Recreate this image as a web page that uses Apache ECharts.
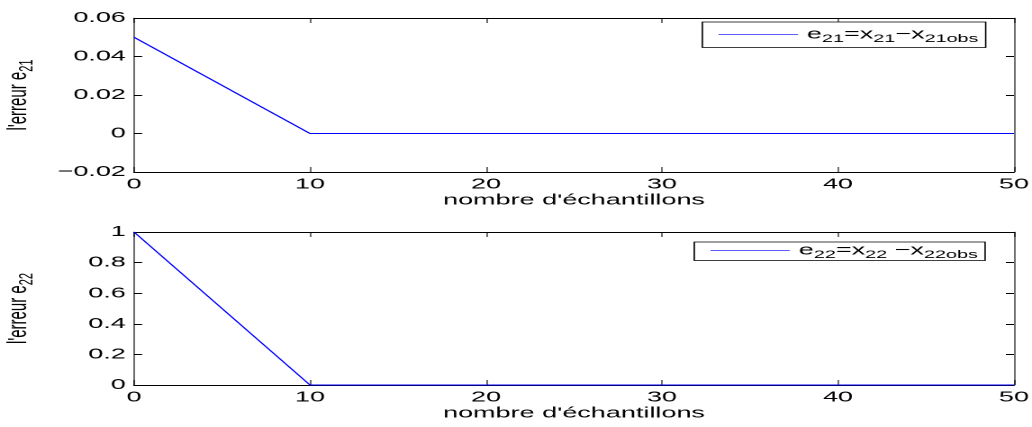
<!DOCTYPE html>
<html>
<head>
<meta charset="utf-8">
<script src="https://cdn.jsdelivr.net/npm/echarts@6/dist/echarts.min.js"></script>
<style>
  html, body { margin: 0; padding: 0; background: #fff; overflow: hidden; }
  /* the original figure was stretched horizontally, so draw narrow and stretch it the same way */
  #main { width: 573px; height: 427px; transform: scaleX(1.801); transform-origin: 0 0; }
</style>
</head>
<body>
<div id="main"></div>
<script>
// breakpoints of the two error curves (samples, error)
var samples = [0, 10, 50];
var e21 = [0.05, 0, 0];
var e22 = [1, 0, 0];

var xTicks = [0, 10, 20, 30, 40, 50];
var yTicksTop = [-0.02, 0, 0.02, 0.04, 0.06];
var yTicksBottom = [0, 0.2, 0.4, 0.6, 0.8, 1];

var font = '"Liberation Sans", Arial, sans-serif';
var thin = 0.56; // vertical strokes get stretched, keep them ~1px on screen

function pairs(xs, ys) {
    return xs.map(function (x, i) { return [x, ys[i]]; });
}

function fmt(v) {
    return String(+v.toFixed(2)).replace('-', '\u2212');
}

var mainTxt = { fontSize: 15, fontFamily: font, color: '#000' };
var subTxt = { fontSize: 11, fontFamily: font, color: '#000', padding: [9, 0, 0, 0] };

var chartDom = document.getElementById('main');
var myChart = echarts.init(chartDom, null, { devicePixelRatio: 2 });

function xAx(grid, pos, showLabel) {
    return {
        type: 'value', gridIndex: grid, position: pos,
        min: xTicks[0], max: xTicks[xTicks.length - 1], interval: 10,
        axisLine: { show: true, onZero: false, lineStyle: { color: '#000', width: 1 } },
        axisTick: { show: true, inside: true, length: 5, lineStyle: { color: '#000', width: thin } },
        axisLabel: { show: showLabel, margin: 5, fontSize: 15, fontFamily: font, color: '#000' },
        splitLine: { show: false },
        name: showLabel ? "nombre d'\u00e9chantillons" : '',
        nameLocation: 'middle', nameGap: 20,
        nameTextStyle: { fontSize: 15, fontFamily: font, color: '#000' }
    };
}

function yAx(grid, pos, ticks, showLabel, label) {
    return {
        type: 'value', gridIndex: grid, position: pos,
        min: ticks[0], max: ticks[ticks.length - 1], interval: ticks[1] - ticks[0],
        axisLine: { show: true, onZero: false, lineStyle: { color: '#000', width: thin } },
        axisTick: { show: true, inside: true, length: 4.5, lineStyle: { color: '#000', width: 1 } },
        axisLabel: { show: showLabel, margin: 4.5, fontSize: 15, fontFamily: font, color: '#000', formatter: fmt },
        splitLine: { show: false },
        name: showLabel ? label : '',
        nameLocation: 'middle', nameGap: 54, nameRotate: 90,
        nameTextStyle: {
            fontSize: 15, fontFamily: font, color: '#000',
            rich: { n: mainTxt, s: subTxt }
        }
    };
}

function legendFmt(name) {
    if (name === 'e21') {
        return '{m|e}{s|21}{m|=x}{s|21}{m|\u2212x}{s|21obs}';
    }
    return '{m|e}{s|22}{m|=x}{s|22}{m| \u2212x}{s|22obs}';
}

function legendBox(name, left, top, pad) {
    return {
        data: [{ name: name, icon: 'rect' }], left: left, top: top,
        backgroundColor: '#fff', borderColor: '#000', borderWidth: 0.8,
        padding: pad, itemGap: 0,
        itemWidth: 44, itemHeight: 1,
        itemStyle: { color: '#5c5cff', borderWidth: 0 },
        formatter: legendFmt,
        textStyle: { rich: { m: mainTxt, s: subTxt } }
    };
}

var option = {
    animation: false,
    backgroundColor: '#fff',
    grid: [
        { left: 74.4, top: 18, width: 488.6, height: 154, outerBoundsMode: 'none' },
        { left: 74.4, top: 232, width: 488.6, height: 153, outerBoundsMode: 'none' }
    ],
    xAxis: [xAx(0, 'bottom', true), xAx(0, 'top', false), xAx(1, 'bottom', true), xAx(1, 'top', false)],
    yAxis: [
        yAx(0, 'left', yTicksTop, true, "{n|l'erreur e}{s|21}"),
        yAx(0, 'right', yTicksTop, false, ''),
        yAx(1, 'left', yTicksBottom, true, "{n|l'erreur e}{s|22}"),
        yAx(1, 'right', yTicksBottom, false, '')
    ],
    legend: [
        legendBox('e21', 390, 22, [5, 4, 3, 9]),
        legendBox('e22', 385.5, 242, [1, 4, 0, 9])
    ],
    series: [
        {
            name: 'e21', type: 'line', xAxisIndex: 0, yAxisIndex: 0,
            data: pairs(samples, e21), symbol: 'none',
            lineStyle: { color: '#0000ff', width: 1 }, itemStyle: { color: '#0000ff' }
        },
        {
            name: 'e22', type: 'line', xAxisIndex: 2, yAxisIndex: 2,
            data: pairs(samples, e22), symbol: 'none',
            lineStyle: { color: '#0000ff', width: 0.9 }, itemStyle: { color: '#0000ff' }
        }
    ]
};

option && myChart.setOption(option);
</script>
</body>
</html>
